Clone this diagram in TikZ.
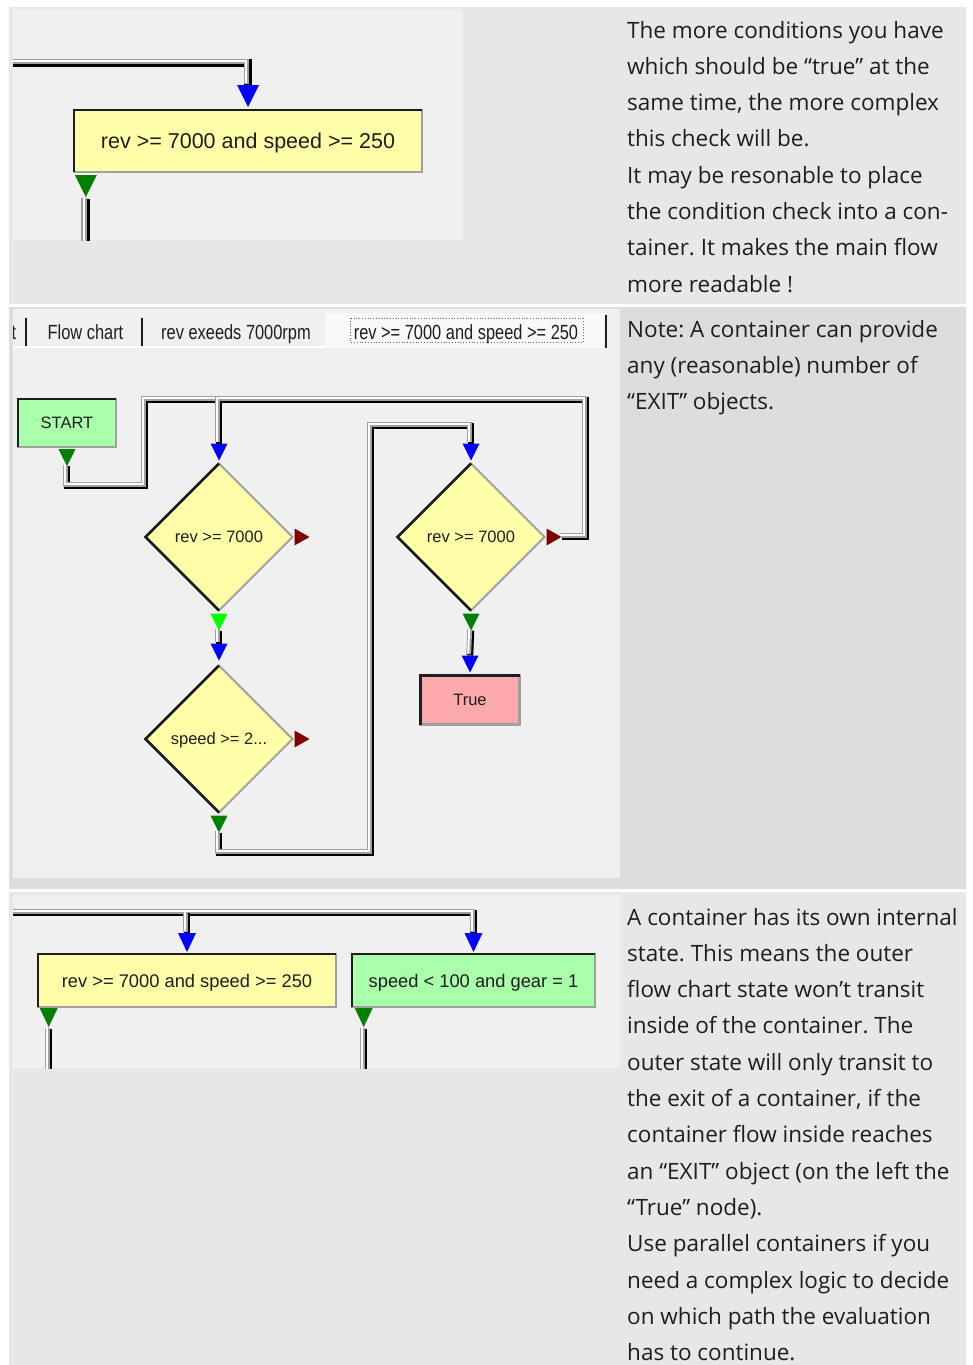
\documentclass[tikz,border=0pt]{standalone}
\usepackage{fontspec}
\setmainfont{Open Sans}
\newfontfamily\chartfont{Liberation Sans}
\newfontfamily\tabfont[FakeStretch=0.8]{Liberation Sans}
\usepackage{xcolor}
\usepackage{tikz}
\usetikzlibrary{positioning,shapes.geometric}
\frenchspacing
\definecolor{FCCell}{HTML}{E6E7E9}
\definecolor{FCCellDark}{HTML}{DCDDDF}
\definecolor{FCShot}{HTML}{F0F0F0}
\definecolor{FCTab}{HTML}{F9F9F9}
\definecolor{FCYellow}{HTML}{FFFFAA}
\definecolor{FCMint}{HTML}{AAFFAA}
\definecolor{FCPink}{HTML}{FFAAAA}
\definecolor{FCBlue}{HTML}{0000FF}
\definecolor{FCGreen}{HTML}{008000}
\definecolor{FCLime}{HTML}{00FF00}
\definecolor{FCRed}{HTML}{800000}
\definecolor{FCEdge}{HTML}{A0A0A0}
\definecolor{FCDark}{HTML}{1E1E1E}
\definecolor{FCPipe}{HTML}{A0A0A0}
\definecolor{FCText}{HTML}{1E1E1E}
\newcommand\chartbig{\chartfont\fontsize{21.5}{25}\selectfont}
\newcommand\chartmid{\chartfont\fontsize{16.5}{19}\selectfont}
\newcommand\chartsmall{\chartfont\fontsize{18.3}{21}\selectfont}
\newcommand\charttab{\tabfont\fontsize{20.5}{24}\selectfont}
\newcommand\notesize{\fontsize{22.5}{27}\selectfont}
\tikzset{
  pipe/.style={draw=black,line width=#1pt,
    postaction={draw=FCPipe,line width=0.75*#1pt,transform canvas={shift={(-0.2*#1,-0.2*#1)}}},
    postaction={draw=white,line width=0.3*#1pt,transform canvas={shift={(-0.28*#1,-0.28*#1)}}}},
  pipe/.default=6.5,
  box/.style={rectangle,draw=FCEdge,line width=2.5pt,inner sep=0pt,outer sep=0pt,text=FCDark,text depth=0pt},
  bevel/.style={draw=FCDark,line width=2.5pt},
  condbox/.style={box,fill=FCYellow},
  okbox/.style={box,fill=FCMint},
  exitbox/.style={box,fill=FCPink,font=\chartmid,minimum width=99pt,minimum height=49pt},
  startbox/.style={box,fill=FCMint,font=\chartmid,minimum width=98pt,minimum height=48pt},
  decision/.style={diamond,fill=FCYellow,draw=FCEdge,line width=2pt,inner sep=0pt,outer sep=0pt,
    minimum width=147pt,minimum height=147pt,font=\chartmid,text=FCDark,text depth=0pt},
  port/.style={isosceles triangle,isosceles triangle stretches,draw=none,inner sep=0pt,outer sep=0pt,
    minimum width=17pt,minimum height=17pt},
  inport/.style={port,fill=FCBlue,shape border rotate=270},
  outport/.style={port,fill=FCGreen,shape border rotate=270},
  falseport/.style={port,fill=FCRed,shape border rotate=0,minimum width=17pt,minimum height=15pt},
  bigport/.style={minimum width=22pt,minimum height=22pt},
  midport/.style={minimum width=18pt,minimum height=19pt},
  tabtext/.style={anchor=base,inner sep=0pt,font=\charttab,text=FCDark},
  tabline/.style={draw=FCDark,line width=1.5pt},
  notetext/.style={anchor=base west,inner sep=0pt,font=\notesize,text=FCText}
}
\begin{document}
\begin{tikzpicture}[x=1pt,y=-1pt]
\path[use as bounding box] (0,0) rectangle (972,1365);
\fill[white] (0,0) rectangle (972,1365);
\fill[FCCell] (9,7) rectangle (966,304);
\fill[FCCellDark] (9,307) rectangle (966,889);
\fill[FCCell] (9,892) rectangle (966,1365);

\begin{scope}
\clip (13,9) rectangle (463,240);
\fill[FCShot] (13,9) rectangle (463,240);
\node[condbox,font=\chartbig,minimum width=348pt,minimum height=62pt] (r1box) at (248,141) {rev >= 7000 and speed >= 250};
\draw[bevel] (r1box.south west) -- (r1box.north west) -- (r1box.north east);
\node[inport,bigport,above=3pt of r1box] (r1in) {};
\node[outport,bigport,below right=3pt and 5pt of r1box.south west] (r1out) {};
\coordinate (r1left) at (10,63);
\coordinate (r1bot) at (0,245);
\draw[pipe=7.5] (r1left) -| (r1in.north);
\draw[pipe=7.5] ([yshift=-2pt]r1out.south) -- (r1out.south |- r1bot);
\end{scope}

\begin{scope}
\clip (13,309) rectangle (620,878);
\fill[FCShot] (13,309) rectangle (620,878);
\fill[FCTab] (325,313) rectangle (604,348);
\draw[white,line width=1.5pt] (13,347) -- (325,347);
\draw[tabline] (26,318) -- (26,346);
\draw[tabline] (142,318) -- (142,346);
\draw[tabline] (606,315) -- (606,348);
\draw[black!60,dotted,line width=0.8pt] (350,318) rectangle (583,342);
\node[tabtext] (tab0) at (14,339) {t};
\node[tabtext] (tab1) at (85.5,339) {Flow chart};
\node[tabtext] (tab2) at (236,339) {rev exeeds 7000rpm};
\node[tabtext] (tab3) at (466,339) {rev >= 7000 and speed >= 250};
\node[startbox] (start) at (67,423) {START};
\draw[bevel] (start.south west) -- (start.north west) -- (start.north east);
\node[outport,below=2pt of start] (startout) {};
\node[decision] (d1) at (219,537) {rev >= 7000};
\draw[bevel] (d1.south) -- (d1.west) -- (d1.north);
\node[inport,above=3pt of d1] (d1in) {};
\node[falseport,right=2pt of d1] (d1false) {};
\node[outport,fill=FCLime,below=3pt of d1] (d1out) {};
\node[decision] (d2) at (219,739) {speed >= 2...};
\draw[bevel] (d2.south) -- (d2.west) -- (d2.north);
\node[inport,above=5pt of d2] (d2in) {};
\node[falseport,right=2pt of d2] (d2false) {};
\node[outport,below=3pt of d2] (d2out) {};
\node[decision] (d3) at (471,537) {rev >= 7000};
\draw[bevel] (d3.south) -- (d3.west) -- (d3.north);
\node[inport,above=3pt of d3] (d3in) {};
\node[falseport,right=2pt of d3] (d3false) {};
\node[outport,below=3pt of d3] (d3out) {};
\node[exitbox] (exit) at (470,700) {True};
\draw[bevel] (exit.south west) -- (exit.north west) -- (exit.north east);
\node[inport,above=3pt of exit] (exitin) {};
\coordinate (startbend) at (145,486);
\coordinate (topbus) at (219,400);
\coordinate (rightbus) at (586,400);
\coordinate (lowbend) at (371,853);
\coordinate (midbus) at (471,426);
\draw[pipe] (startout.south) |- (startbend) |- (topbus) -- (d1in.north);
\draw[pipe] (d3false.east) -| (rightbus) -- (topbus) -- (d1in.north);
\draw[pipe] (d1out.south) -- (d2in.north);
\draw[pipe] (d2out.south) |- (lowbend) |- (midbus) -- (d3in.north);
\draw[pipe] (d3out.south) -- (exitin.north);
\end{scope}

\begin{scope}
\clip (13,895) rectangle (620,1068);
\fill[FCShot] (13,895) rectangle (620,1068);
\node[condbox,font=\chartsmall,minimum width=298pt,minimum height=53pt] (r3box1) at (187,980.5) {rev >= 7000 and speed >= 250};
\draw[bevel] (r3box1.south west) -- (r3box1.north west) -- (r3box1.north east);
\node[okbox,font=\chartsmall,minimum width=243pt,minimum height=53pt] (r3box2) at (473.5,980.5) {speed < 100 and gear = 1};
\draw[bevel] (r3box2.south west) -- (r3box2.north west) -- (r3box2.north east);
\node[inport,midport,above=2pt of r3box1] (r3in1) {};
\node[inport,midport,above=2pt of r3box2] (r3in2) {};
\node[outport,midport,below right=1pt and 5pt of r3box1.south west] (r3out1) {};
\node[outport,midport,below right=1pt and 6pt of r3box2.south west] (r3out2) {};
\coordinate (r3left) at (10,913);
\coordinate (r3bot) at (0,1072);
\draw[pipe] (r3left) -| (r3in2.north);
\draw[pipe] (r3in1.north |- r3left) -- (r3in1.north);
\draw[pipe] ([yshift=-2pt]r3out1.south) -- (r3out1.south |- r3bot);
\draw[pipe] ([yshift=-2pt]r3out2.south) -- (r3out2.south |- r3bot);
\end{scope}

\foreach \ln [count=\i from 0] in {{The more conditions you have},{which should be “true” at the},{same time, the more complex},{this check will be.},{It may be resonable to place},{the condition check into a con-},{tainer. It makes the main flow},{more readable !}}
  \node[notetext] (noteA\i) at (627,38+36.3*\i) {\ln};
\foreach \ln [count=\i from 0] in {{Note: A container can provide},{any (reasonable) number of},{“EXIT” objects.}}
  \node[notetext] (noteB\i) at (627,337+36.3*\i) {\ln};
\foreach \ln [count=\i from 0] in {{A container has its own internal},{state. This means the outer},{flow chart state won’t transit},{inside of the container. The},{outer state will only transit to},{the exit of a container, if the},{container flow inside reaches},{an “EXIT” object (on the left the},{“True” node).},{Use parallel containers if you},{need a complex logic to decide},{on which path the evaluation},{has to continue.}}
  \node[notetext] (noteC\i) at (627,925+36.3*\i) {\ln};
\end{tikzpicture}
\end{document}
